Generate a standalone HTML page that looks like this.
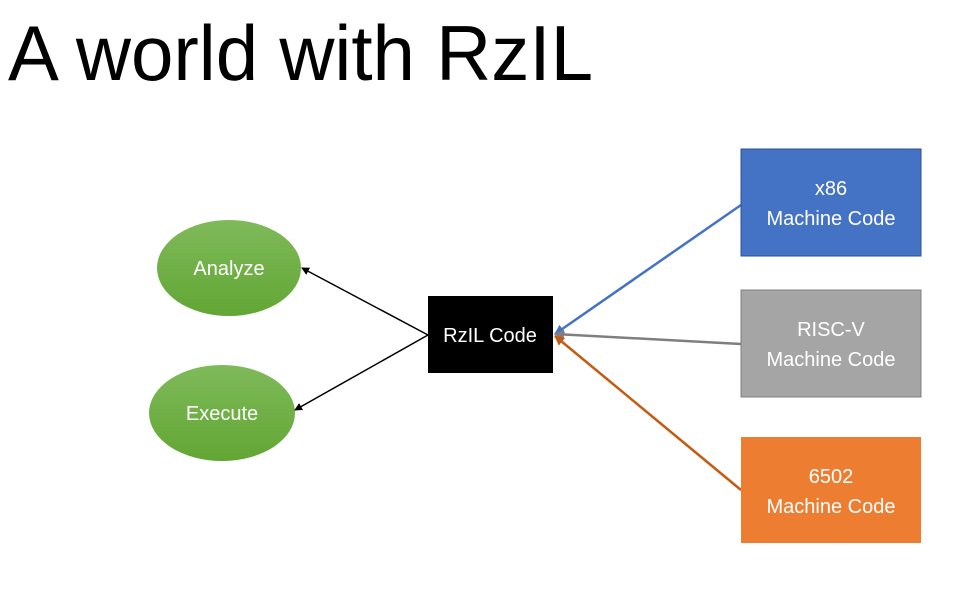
<!DOCTYPE html>
<html><head><meta charset="utf-8"><style>body{margin:0;background:#fff}svg{display:block}</style></head>
<body>
<svg width="955" height="590" xmlns="http://www.w3.org/2000/svg" font-family="Liberation Sans, sans-serif">
<defs>
<linearGradient id="g" x1="0" y1="0" x2="0" y2="1"><stop offset="0" stop-color="#7fba5a"/><stop offset="1" stop-color="#62a634"/></linearGradient>
<marker id="ab" markerWidth="8" markerHeight="8" refX="7" refY="4" orient="auto" markerUnits="userSpaceOnUse"><path d="M0,0 L8,4 L0,8 z" fill="#000"/></marker>
<marker id="abl" markerWidth="10" markerHeight="10" refX="9" refY="5" orient="auto" markerUnits="userSpaceOnUse"><path d="M0,0 L10,5 L0,10 z" fill="#4472c4"/></marker>
<marker id="agr" markerWidth="10" markerHeight="10" refX="9" refY="5" orient="auto" markerUnits="userSpaceOnUse"><path d="M0,0 L10,5 L0,10 z" fill="#7f7f7f"/></marker>
<marker id="aor" markerWidth="10" markerHeight="10" refX="9" refY="5" orient="auto" markerUnits="userSpaceOnUse"><path d="M0,0 L10,5 L0,10 z" fill="#c55a11"/></marker>
</defs>
<text x="8" y="80" font-size="78" font-weight="normal" fill="#000" textLength="585" lengthAdjust="spacingAndGlyphs">A world with RzIL</text>
<ellipse cx="229" cy="268" rx="72" ry="48" fill="url(#g)"/>
<ellipse cx="222" cy="413" rx="73" ry="48" fill="url(#g)"/>
<text x="229" y="275" font-size="20" fill="#fff" text-anchor="middle">Analyze</text>
<text x="222" y="420" font-size="20" fill="#fff" text-anchor="middle">Execute</text>
<rect x="428" y="296" width="125" height="77" fill="#000"/>
<text x="490" y="342" font-size="20" fill="#fff" text-anchor="middle">RzIL Code</text>
<line x1="428" y1="335" x2="302" y2="268" stroke="#000" stroke-width="1.5" marker-end="url(#ab)"/>
<line x1="428" y1="335" x2="295" y2="410" stroke="#000" stroke-width="1.5" marker-end="url(#ab)"/>
<line x1="741" y1="205" x2="555" y2="334" stroke="#4472c4" stroke-width="2.5" marker-end="url(#abl)"/>
<line x1="741" y1="344" x2="555" y2="334" stroke="#7f7f7f" stroke-width="2.5" marker-end="url(#agr)"/>
<line x1="741" y1="490" x2="555" y2="336" stroke="#c55a11" stroke-width="2.5" marker-end="url(#aor)"/>
<rect x="741" y="149" width="180" height="107" fill="#4472c4" stroke="#2f528f" stroke-width="1"/>
<text x="831" y="195" font-size="20" fill="#fff" text-anchor="middle">x86</text>
<text x="831" y="225" font-size="20" fill="#fff" text-anchor="middle">Machine Code</text>
<rect x="741" y="290" width="180" height="107" fill="#a5a5a5" stroke="#7f7f7f" stroke-width="1"/>
<text x="831" y="336" font-size="20" fill="#fff" text-anchor="middle">RISC-V</text>
<text x="831" y="366" font-size="20" fill="#fff" text-anchor="middle">Machine Code</text>
<rect x="741" y="437" width="180" height="106" fill="#ed7d31"/>
<text x="831" y="483" font-size="20" fill="#fff" text-anchor="middle">6502</text>
<text x="831" y="513" font-size="20" fill="#fff" text-anchor="middle">Machine Code</text>
</svg>
</body></html>
